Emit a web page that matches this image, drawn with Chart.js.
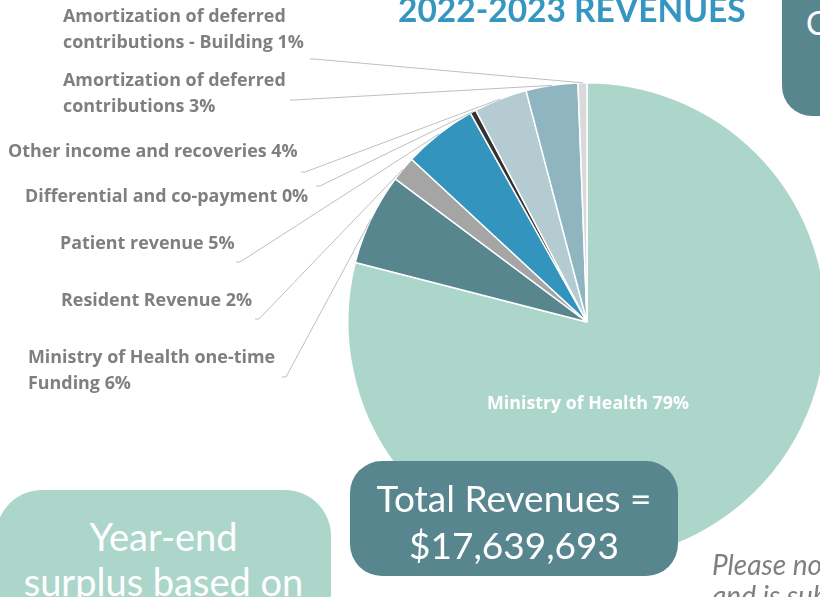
<!DOCTYPE html>
<html>
<head>
<meta charset="utf-8">
<script src="https://cdn.jsdelivr.net/npm/chart.js@4.4.0/dist/chart.umd.min.js"></script>
<style>
    html, body { margin: 0; padding: 0; width: 820px; height: 597px; overflow: hidden; background: #fff; font-family: Lato, "Open Sans", sans-serif; }
    #wrap { position: absolute; left: 0; top: 0; width: 840px; height: 597px; }
    .box { position: absolute; color: #fff; text-align: center; box-sizing: border-box; }
    #title { position: absolute; left: 398px; top: -11px; font: 700 33.5px Lato; line-height: 41px; color: #3597C1; white-space: nowrap; }
    #totalBox { left: 350px; top: 461px; width: 328px; height: 115px; border-radius: 32px; background: #58868F; font-size: 37px; line-height: 47px; padding-top: 13px; }
    #yearBox { left: -4px; top: 490px; width: 335px; height: 150px; border-radius: 46px; background: #ADD6CB; font-size: 38px; line-height: 45px; padding-top: 24px; }
    #cornerBox { left: 782px; top: -40px; width: 100px; height: 156px; border-radius: 30px; background: #58868F; }
    #cornerBox span { position: absolute; left: 24px; top: 44px; font-size: 32px; line-height: 38px; }
    #note { position: absolute; left: 712px; top: 549px; font: italic 28px Lato; line-height: 31px; color: #7F7F7F; white-space: nowrap; }
</style>
</head>
<body>
<div id="wrap"><canvas id="pieCanvas" width="840" height="597"></canvas></div>
<div id="title">2022-2023 REVENUES</div>
<div class="box" id="cornerBox"><span>C</span></div>
<div class="box" id="totalBox">Total Revenues =<br>$17,639,693</div>
<div class="box" id="yearBox">Year-end<br>surplus based on</div>
<div id="note">Please note<br>and is subject</div>
<script>
    // Dữ liệu: thứ tự theo chiều kim đồng hồ, bắt đầu từ 12 giờ
    const categories = [
        'Ministry of Health',
        'Ministry of Health one-time Funding',
        'Resident Revenue',
        'Patient revenue',
        'Differential and co-payment',
        'Other income and recoveries',
        'Amortization of deferred contributions',
        'Amortization of deferred contributions - Building'
    ];
    const shares = [79.0, 6.2, 1.7, 5.0, 0.4, 3.6, 3.5, 0.6];
    const pctLabels = ['79%', '6%', '2%', '5%', '0%', '4%', '3%', '1%'];
    const sliceColors = ['#ADD6CB', '#58868F', '#A5A5A5', '#3394BD', '#333333', '#B3CBD1', '#8FB5C0', '#D9D9D9'];

    // Vị trí nhãn bên ngoài (null = nhãn nằm trong lát)
    const labelLayout = [
        null,
        { lines: ['Ministry of Health one-time', 'Funding 6%'], x: 28, y: 363, lx: 282, ly: 377 },
        { lines: ['Resident Revenue 2%'], x: 61, y: 306, lx: 255, ly: 319 },
        { lines: ['Patient revenue 5%'], x: 60, y: 249, lx: 236, ly: 262 },
        { lines: ['Differential and co-payment 0%'], x: 25, y: 202, lx: 316, ly: 186 },
        { lines: ['Other income and recoveries 4%'], x: 8, y: 157, lx: 301, ly: 172 },
        { lines: ['Amortization of deferred', 'contributions 3%'], x: 63, y: 86, lx: 290, ly: 100 },
        { lines: ['Amortization of deferred', 'contributions - Building 1%'], x: 63, y: 22, lx: 310, ly: 59 }
    ];

    const sliceLabels = {
        id: 'sliceLabels',
        afterDatasetsDraw(chart) {
            const ctx = chart.ctx;
            const arcs = chart.getDatasetMeta(0).data;
            ctx.save();
            arcs.forEach((arc, i) => {
                const p = arc.getProps(['x', 'y', 'startAngle', 'endAngle', 'outerRadius'], true);
                const lay = labelLayout[i];
                if (!lay) {
                    ctx.fillStyle = '#fff';
                    ctx.font = '700 17.8px "Open Sans"';
                    ctx.textAlign = 'center';
                    ctx.fillText(categories[i] + ' ' + pctLabels[i], p.x + 1, p.y + 87);
                    return;
                }
                const mid = (p.startAngle + p.endAngle) / 2;
                const ex = p.x + Math.cos(mid) * p.outerRadius;
                const ey = p.y + Math.sin(mid) * p.outerRadius;
                ctx.strokeStyle = '#BFBFBF';
                ctx.lineWidth = 1;
                ctx.beginPath();
                ctx.moveTo(lay.lx, lay.ly);
                ctx.lineTo(lay.lx + 4, lay.ly);
                ctx.lineTo(ex, ey);
                ctx.stroke();
                ctx.fillStyle = '#7F7F7F';
                ctx.font = '700 17.9px "Open Sans"';
                ctx.textAlign = 'left';
                lay.lines.forEach((t, k) => ctx.fillText(t, lay.x, lay.y + k * 26));
            });
            ctx.restore();
        }
    };

    const ctx = document.getElementById('pieCanvas').getContext('2d');
    const chart = new Chart(ctx, {
        type: 'pie',
        data: {
            labels: categories,
            datasets: [{
                data: shares,
                backgroundColor: sliceColors,
                borderColor: '#ffffff',
                borderWidth: 1.5
            }]
        },
        options: {
            responsive: false,
            animation: false,
            layout: { padding: { left: 347, right: 13, top: 82, bottom: 35 } },
            plugins: {
                legend: { display: false },
                tooltip: { enabled: false }
            }
        },
        plugins: [sliceLabels]
    });
</script>
</body>
</html>
